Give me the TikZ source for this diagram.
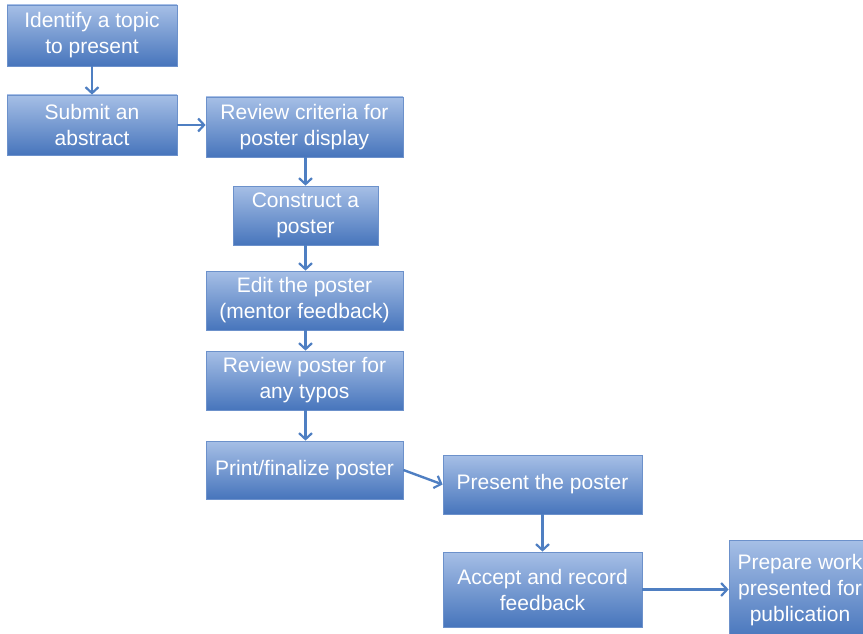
\documentclass[tikz,border=0pt]{standalone}
\usepackage{fontspec}
\setmainfont{Liberation Sans}
\usetikzlibrary{arrows.meta}
\definecolor{boxtop}{HTML}{A6BFE6}
\definecolor{boxbot}{HTML}{4775BC}
\definecolor{boxline}{HTML}{6C91CB}
\definecolor{arrowc}{HTML}{4F7FC2}
\tikzset{
  stepbox/.style={draw=boxline, line width=0.8pt, top color=boxtop, bottom color=boxbot,
    text=white, align=center, inner sep=0pt, font=\fontsize{21}{26}\selectfont},
  conn/.style={draw=arrowc, line width=2.4pt, -{Straight Barb[length=6pt,width=13pt,line width=2.2pt]}}
}
\begin{document}
\begin{tikzpicture}[x=1pt,y=-1pt]
\useasboundingbox (0,0) rectangle (863,634);
\clip (0,0) rectangle (863,634);
\node[stepbox, minimum width=170pt, minimum height=61pt] (a) at (92,35.5) {Identify a topic\\to present};
\node[stepbox, minimum width=170pt, minimum height=60pt] (b) at (92,125) {Submit an\\abstract};
\node[stepbox, minimum width=197pt, minimum height=60pt] (c) at (304.5,127) {Review criteria for\\poster display};
\node[stepbox, minimum width=145pt, minimum height=59pt] (d) at (305.5,215.5) {Construct a\\poster};
\node[stepbox, minimum width=197pt, minimum height=59pt] (e) at (304.5,300.5) {Edit the poster\\(mentor feedback)};
\node[stepbox, minimum width=197pt, minimum height=59pt] (f) at (304.5,380.5) {Review poster for\\any typos};
\node[stepbox, minimum width=197pt, minimum height=58pt] (g) at (304.5,470) {Print/finalize poster};
\node[stepbox, minimum width=199pt, minimum height=59pt] (h) at (542.5,484.5) {Present the poster};
\node[stepbox, minimum width=199pt, minimum height=75pt] (i) at (542.5,589.5) {Accept and record\\feedback};
\node[stepbox, minimum width=142pt, minimum height=100pt] (j) at (800,590) {Prepare work\\presented for\\publication};
\draw[conn] (a.south) -- (b.north);
\draw[conn] (b.east) -- (c.west |- b.east);
\draw[conn] (c.south -| d.north) -- (d.north);
\draw[conn] (d.south) -- (e.north -| d.south);
\draw[conn] (e.south -| d.south) -- (f.north -| d.south);
\draw[conn] (f.south -| d.south) -- (g.north -| d.south);
\draw[conn] (g.east) -- (h.west);
\draw[conn] (h.south) -- (i.north);
\draw[conn] (i.east) -- (j.west |- i.east);
\end{tikzpicture}
\end{document}
